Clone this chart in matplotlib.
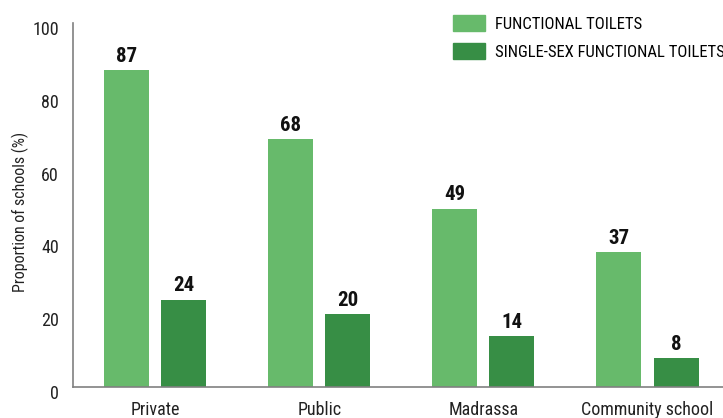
import matplotlib
matplotlib.use('Agg')
from matplotlib import pyplot as plt
from matplotlib.patches import Patch
from matplotlib.transforms import ScaledTranslation
import numpy as np

categories = ['Private', 'Public', 'Madrassa', 'Community school']
functional = [87, 68, 49, 37]
single_sex = [24, 20, 14, 8]
series_names = ['FUNCTIONAL TOILETS', 'SINGLE-SEX FUNCTIONAL TOILETS']

LIGHT = '#67ba6b'
DARK = '#378e45'
AXIS = '#808080'

plt.rcParams['font.family'] = ['Roboto Condensed', 'DejaVu Sans']

fig = plt.figure(figsize=(7.23, 4.18), dpi=100)
ax = fig.add_axes([73/723, 31/418, 650/723, 364/418])

x = np.arange(len(categories))
w = 0.274
off = 0.174
b1 = ax.bar(x - off, functional, w, color=LIGHT)
b2 = ax.bar(x + off, single_sex, w, color=DARK)

# value labels above each bar
for bars, vals in ((b1, functional), (b2, single_sex)):
    for bar, v in zip(bars, vals):
        ax.text(bar.get_x() + bar.get_width()/2, v + 1.2, str(v), ha='center', va='bottom',
                fontsize=15, fontweight='bold', color='#111111')

ax.set_xlim(-0.5, 3.46)
ax.set_ylim(0, 100)
ax.set_yticks([0, 20, 40, 60, 80, 100])
ax.set_xticks(x)
ax.set_xticklabels(categories)
ax.tick_params(axis='both', length=0, labelsize=13, colors='#222222')
ax.tick_params(axis='y', pad=10)
ax.tick_params(axis='x', pad=10)
# y labels sit a little below their gridline level
shift = ScaledTranslation(0, -5/100, fig.dpi_scale_trans)
for lab in ax.get_yticklabels():
    lab.set_transform(lab.get_transform() + shift)

fig.text(20/723, 1 - 212/418, 'Proportion of schools (%)', rotation=90, ha='center', va='center',
         fontsize=11.5, color='#222222')

for s in ('top', 'right'):
    ax.spines[s].set_visible(False)
for s in ('left', 'bottom'):
    ax.spines[s].set_color(AXIS)
    ax.spines[s].set_linewidth(1.2)

handles = [Patch(color=LIGHT), Patch(color=DARK)]
fig.legend(handles, series_names, loc='upper left', bbox_to_anchor=(446/723, 1 - 8/418),
           frameon=False, fontsize=12, handlelength=1.92, handleheight=1.14,
           handletextpad=0.6, labelspacing=0.69, borderaxespad=0)

fig.savefig('out.png', dpi=100)
